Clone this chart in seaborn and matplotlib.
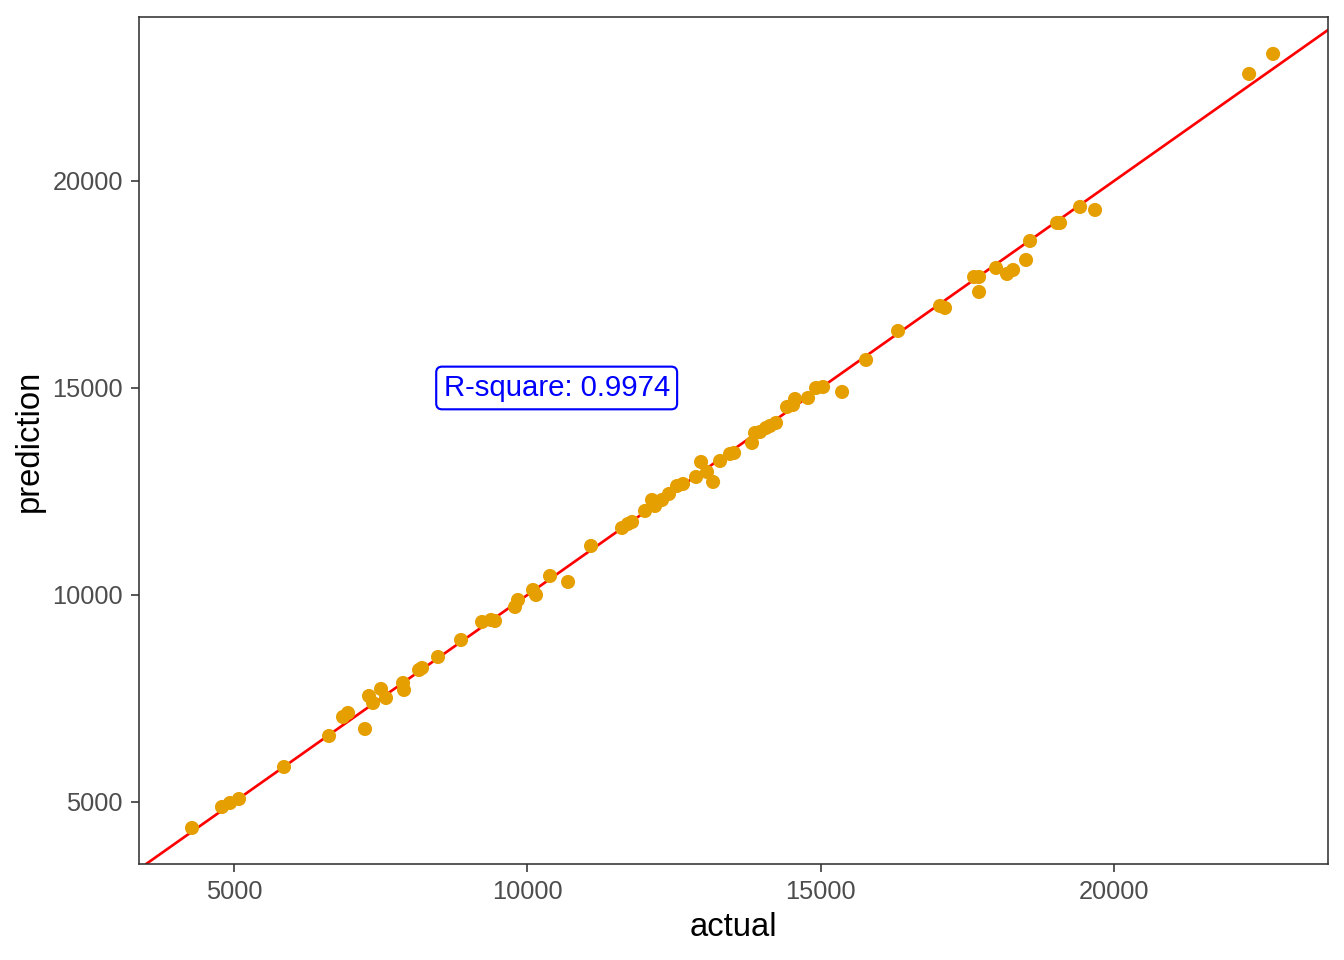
import pandas as pd
import seaborn as sns
import matplotlib
matplotlib.use("Agg")
import matplotlib.pyplot as plt

# values
actual = [4284, 4795, 4932, 5085, 5852, 6620, 6858, 6943, 7233, 7301,
          7370, 7506, 7591, 7881, 7898, 8154, 8205, 8478, 8870, 9228,
          9381, 9449, 9790, 9841, 10097, 10148, 10387, 10694, 11086, 11614,
          11716, 11785, 12006, 12125, 12177, 12296, 12415, 12552, 12654, 12876,
          12961, 13063, 13166, 13285, 13455, 13524, 13830, 13881, 13967, 14069,
          14137, 14239, 14427, 14563, 14529, 14785, 14921, 15041, 15365, 15774,
          16319, 17035, 17120, 17615, 17700, 17700, 17990, 18177, 18280, 18501,
          18569, 19030, 19081, 19422, 19677, 22303, 22712]
prediction = [4372, 4879, 4976, 5072, 5845, 6594, 7053, 7150, 6763, 7560,
              7391, 7730, 7512, 7874, 7705, 8188, 8237, 8502, 8913, 9348,
              9396, 9372, 9710, 9879, 10121, 10000, 10459, 10314, 11184, 11618,
              11715, 11763, 12029, 12295, 12150, 12295, 12440, 12633, 12681, 12850,
              13213, 12971, 12730, 13237, 13406, 13430, 13672, 13913, 13937, 14034,
              14082, 14155, 14541, 14734, 14589, 14758, 15000, 15024, 14904, 15677,
              16377, 16981, 16933, 17681, 17681, 17319, 17899, 17754, 17850, 18092,
              18551, 18986, 18986, 19373, 19300, 22585, 23069]
r_square = 0.9974
ticks = [5000, 10000, 15000, 20000]

df = pd.DataFrame({"actual": actual, "prediction": prediction})

sns.set_style("white")
plt.rcParams["font.family"] = ["Liberation Sans", "DejaVu Sans"]

fig = plt.figure(figsize=(7, 5), dpi=192)
ax = fig.add_axes([0.1034, 0.1, 0.8847, 0.8823])

ax.axline((0, 0), slope=1, color="red", linewidth=1.0, zorder=1)
sns.scatterplot(data=df, x="actual", y="prediction", color="#E69F00",
                s=28, edgecolor="none", linewidth=0, ax=ax, zorder=2)

ax.text(10500, 15000, f"R-square: {r_square}", color="blue", fontsize=11,
        ha="center", va="center",
        bbox=dict(boxstyle="round,pad=0.25,rounding_size=0.2", fc="white",
                  ec="blue", linewidth=0.8))

ax.set_xlim(3380, 23648)
ax.set_ylim(3502, 23961)
ax.set_xticks(ticks)
ax.set_yticks(ticks)
ax.tick_params(axis="both", direction="out", length=3, width=0.6,
               color="#333333", labelsize=9.5, labelcolor="#4D4D4D",
               bottom=True, left=True, pad=3)
for sp in ax.spines.values():
    sp.set_color("#333333")
    sp.set_linewidth(0.6)
ax.set_xlabel("actual", fontsize=12.3, color="black", labelpad=3)
ax.set_ylabel("prediction", fontsize=12.3, color="black", labelpad=3)

fig.savefig("out.png", dpi=192)
